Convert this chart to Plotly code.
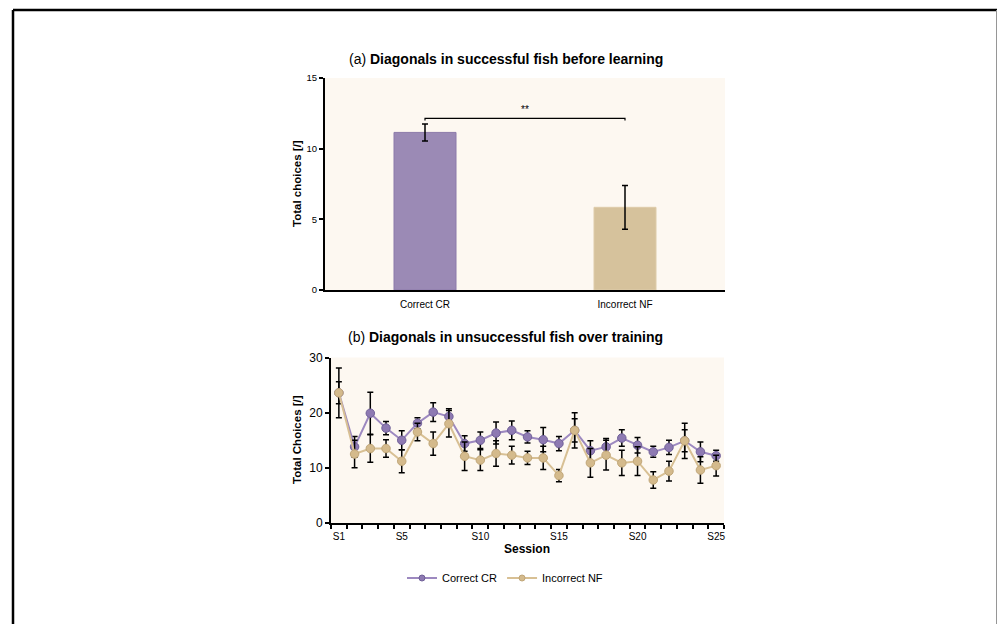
import plotly.graph_objects as go

# ---------- data ----------
bar_categories = ["Correct CR", "Incorrect NF"]
bar_values = [11.15, 5.85]
bar_errors = [0.6, 1.55]

sessions = [f"S{i}" for i in range(1, 26)]
session_idx = list(range(1, 26))
correct_cr = [23.6, 13.8, 19.9, 17.2, 15.0, 18.1, 20.1, 19.3, 14.4, 15.0,
              16.3, 16.8, 15.6, 15.1, 14.4, 16.8, 13.1, 13.8, 15.4, 14.1,
              12.9, 13.7, 14.9, 12.9, 12.2]
correct_cr_err = [2.0, 1.9, 3.8, 1.2, 1.7, 1.0, 1.7, 1.4, 1.4, 1.5,
                  2.0, 1.7, 1.1, 2.2, 1.3, 2.1, 1.8, 1.5, 1.5, 1.4,
                  1.0, 1.3, 2.0, 1.8, 1.0]
incorrect_nf = [23.6, 12.5, 13.5, 13.5, 11.2, 16.5, 14.4, 18.0, 12.1, 11.4,
                12.6, 12.3, 11.8, 11.8, 8.6, 16.8, 10.9, 12.3, 10.9, 11.2,
                7.8, 9.4, 14.9, 9.6, 10.4]
incorrect_nf_err = [4.5, 2.5, 2.5, 1.6, 2.1, 1.6, 2.1, 2.4, 2.6, 1.9,
                    2.3, 1.6, 1.2, 2.1, 1.1, 3.2, 2.6, 2.7, 2.3, 2.6,
                    1.5, 1.8, 3.2, 2.4, 1.9]
label_sessions = [1, 5, 10, 15, 20, 25]

# ---------- styles ----------
FONT = "Liberation Sans, Arial, Helvetica, sans-serif"
PURPLE_BAR = "rgb(155,138,181)"
PURPLE_BAR_EDGE = "rgb(140,122,170)"
TAN_BAR = "rgb(214,194,156)"
TAN_BAR_EDGE = "rgb(222,204,170)"
PURPLE_LINE = "rgb(157,137,192)"
PURPLE_MARK = "rgb(142,122,178)"
PURPLE_MARK_EDGE = "rgb(112,96,152)"
TAN_LINE = "rgb(216,192,148)"
TAN_MARK = "rgb(212,186,140)"
TAN_MARK_EDGE = "rgb(192,166,120)"
BG = "rgb(253,248,241)"

W, H = 998, 624


def px(x):
    return x / W


def py(y):
    return 1 - y / H


fig = go.Figure()

# top bar chart
fig.add_trace(go.Bar(
    x=bar_categories, y=bar_values,
    marker=dict(color=[PURPLE_BAR, TAN_BAR],
                line=dict(color=[PURPLE_BAR_EDGE, TAN_BAR_EDGE], width=1)),
    width=0.31,
    error_y=dict(type="data", array=bar_errors, color="black", thickness=1.5, width=3),
    xaxis="x", yaxis="y", showlegend=False,
))

# bottom line chart
fig.add_trace(go.Scatter(
    x=session_idx, y=correct_cr, name="Correct CR", mode="lines+markers",
    line=dict(color=PURPLE_LINE, width=2),
    marker=dict(color=PURPLE_MARK, size=8.5, line=dict(color=PURPLE_MARK_EDGE, width=1)),
    error_y=dict(type="data", array=correct_cr_err, color="black", thickness=1.5, width=3),
    xaxis="x2", yaxis="y2", showlegend=False,
))
fig.add_trace(go.Scatter(
    x=session_idx, y=incorrect_nf, name="Incorrect NF", mode="lines+markers",
    line=dict(color=TAN_LINE, width=2),
    marker=dict(color=TAN_MARK, size=8.5, line=dict(color=TAN_MARK_EDGE, width=1)),
    error_y=dict(type="data", array=incorrect_nf_err, color="black", thickness=1.5, width=3),
    xaxis="x2", yaxis="y2", showlegend=False,
))
# legend entries (smaller symbols, as in the reference legend)
fig.add_trace(go.Scatter(
    x=[None], y=[None], name="Correct CR", mode="lines+markers",
    line=dict(color=PURPLE_LINE, width=2),
    marker=dict(color=PURPLE_MARK, size=6, line=dict(color=PURPLE_MARK_EDGE, width=1)),
    xaxis="x2", yaxis="y2", showlegend=True,
))
fig.add_trace(go.Scatter(
    x=[None], y=[None], name="Incorrect NF", mode="lines+markers",
    line=dict(color=TAN_LINE, width=2),
    marker=dict(color=TAN_MARK, size=6, line=dict(color=TAN_MARK_EDGE, width=1)),
    xaxis="x2", yaxis="y2", showlegend=True,
))

axis_common = dict(showline=True, linecolor="black", linewidth=2, showgrid=False,
                   zeroline=False)

fig.update_layout(
    width=W, height=H, autosize=False,
    margin=dict(l=0, r=0, t=0, b=0, autoexpand=False),
    paper_bgcolor="white",
    plot_bgcolor=BG,
    font=dict(family=FONT, color="black"),
    xaxis=dict(domain=[px(325), px(725)], anchor="y", type="category", range=[-0.5, 1.5],
               ticks="outside", ticklen=4, tickcolor="rgba(0,0,0,0)",
               tickfont=dict(family=FONT, size=10, color="black"),
               showline=True, linecolor="black", linewidth=2, showgrid=False),
    yaxis=dict(domain=[py(290), py(78)], anchor="x", range=[0, 15], tickvals=[0, 5, 10, 15],
               ticks="outside", ticklen=4, tickwidth=2, tickcolor="black",
               tickfont=dict(family=FONT, size=9.5, color="black"), **axis_common),
    xaxis2=dict(domain=[px(331), px(724)], anchor="y2", range=[0.5, 25.5],
                tickvals=label_sessions, ticktext=[sessions[i - 1] for i in label_sessions],
                ticks="outside", ticklen=3, tickcolor="rgba(0,0,0,0)",
                tickfont=dict(family=FONT, size=10, color="black"),
                minor=dict(tickvals=[i + 0.5 for i in range(0, 26)], ticks="outside",
                           ticklen=4, tickwidth=2, tickcolor="black", showgrid=False),
                **axis_common),
    yaxis2=dict(domain=[py(523), py(357.5)], anchor="x2", range=[0, 30], tickvals=[0, 10, 20, 30],
                ticks="outside", ticklen=4, tickwidth=2, tickcolor="black",
                tickfont=dict(family=FONT, size=12, color="black"), **axis_common),
    legend=dict(orientation="h", x=px(505), y=py(578), xanchor="center", yanchor="middle",
                font=dict(family=FONT, size=11, color="black"), bgcolor="rgba(0,0,0,0)",
                itemwidth=30, tracegroupgap=0),
)

# significance bracket (data coordinates of top panel)
br_y = max(v + e for v, e in zip(bar_values, bar_errors)) + 0.4
fig.add_shape(type="path", xref="x", yref="y",
              path=f"M 0,{br_y - 0.15} L 0,{br_y} L 1,{br_y} L 1,{br_y - 0.15}",
              line=dict(color="black", width=1.2))

center = dict(xanchor="center", yanchor="middle", showarrow=False, xref="paper", yref="paper")
annotations = [
    dict(x=0.5, y=br_y + 0.1, xref="x", yref="y", text="**", showarrow=False,
         yanchor="bottom", font=dict(family=FONT, size=10, color="black")),
    dict(x=px(506), y=py(59),
         text="(a) <b>Diagonals in successful fish before learning</b>",
         font=dict(family=FONT, size=14, color="black"), **center),
    dict(x=px(506), y=py(337),
         text="(b) <b>Diagonals in unsuccessful fish over training</b>",
         font=dict(family=FONT, size=14, color="black"), **center),
    dict(x=px(297), y=py(184), textangle=-90,
         text="<b>Total choices [/]</b>", font=dict(family=FONT, size=11.5, color="black"), **center),
    dict(x=px(297), y=py(440), textangle=-90,
         text="<b>Total Choices [/]</b>", font=dict(family=FONT, size=11.5, color="black"), **center),
    dict(x=px(527), y=py(549),
         text="<b>Session</b>", font=dict(family=FONT, size=12, color="black"), **center),
]
fig.update_layout(annotations=annotations)

# page frame
fig.add_shape(type="line", xref="paper", yref="paper", x0=px(13), x1=px(13), y0=0, y1=py(10),
              line=dict(color="black", width=2.5))
fig.add_shape(type="line", xref="paper", yref="paper", x0=px(13), x1=px(997), y0=py(10), y1=py(10),
              line=dict(color="black", width=2.5))
fig.add_shape(type="line", xref="paper", yref="paper", x0=px(996.5), x1=px(996.5), y0=0, y1=py(10),
              line=dict(color="rgb(150,150,150)", width=1))

fig.write_html("out.html")
